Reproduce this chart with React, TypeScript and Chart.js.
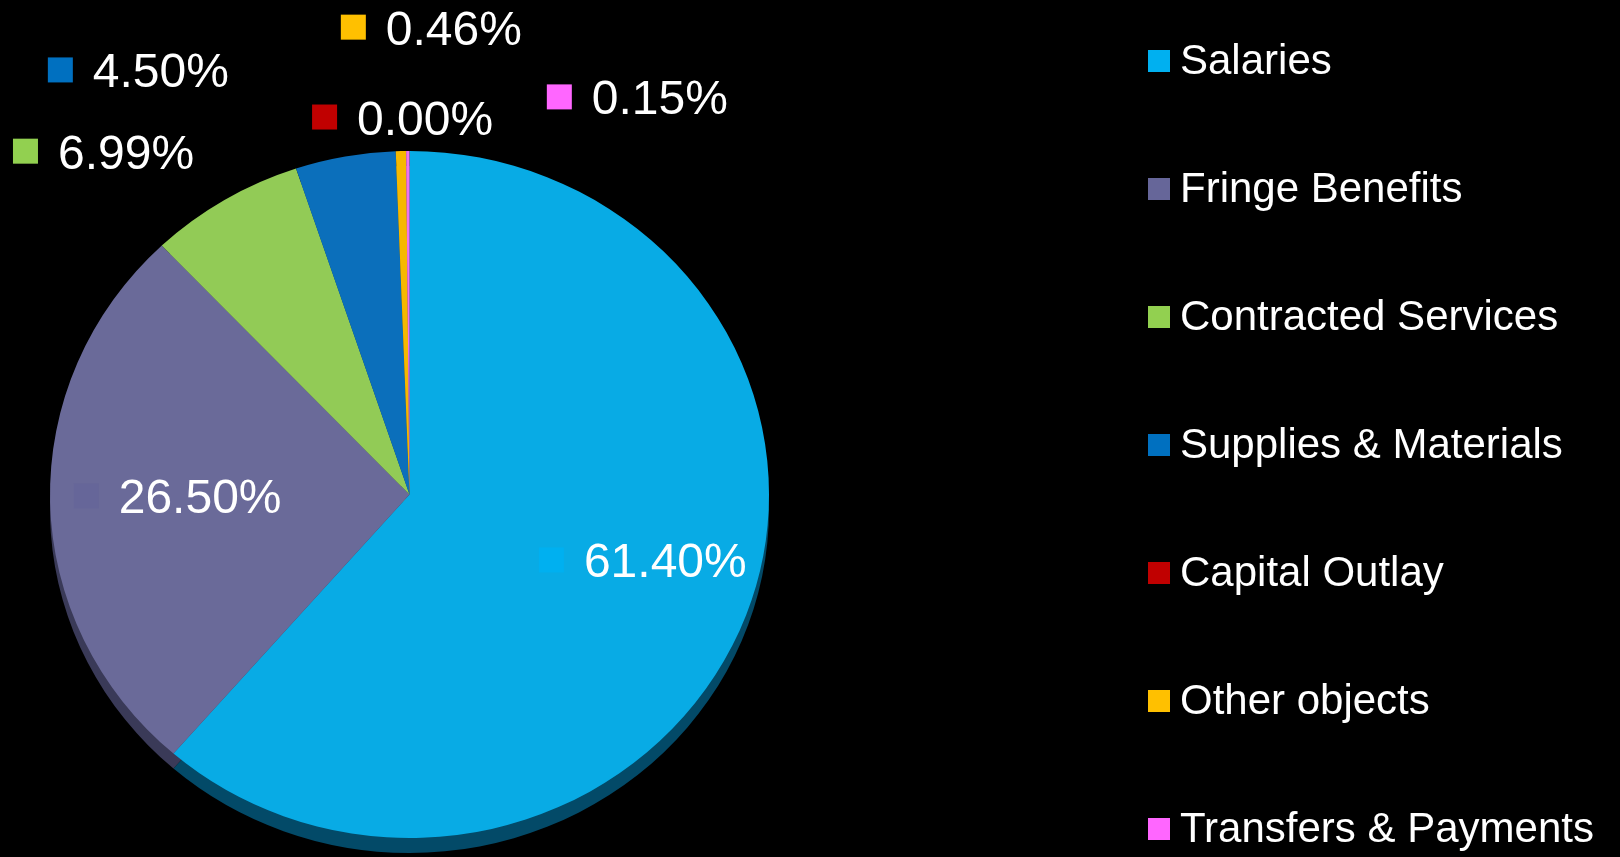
import React, { useEffect, useRef } from 'react';
import { Chart, registerables } from 'chart.js';

Chart.register(...registerables);

// ---- data ----
const categories = [
  'Salaries',
  'Fringe Benefits',
  'Contracted Services',
  'Supplies & Materials',
  'Capital Outlay',
  'Other objects',
  'Transfers & Payments',
];
const shares = [61.4, 26.5, 6.99, 4.5, 0.0, 0.46, 0.15];
const percentLabels = ['61.40%', '26.50%', '6.99%', '4.50%', '0.00%', '0.46%', '0.15%'];

// ---- styles ----
const sliceColors = ['#08ABE5', '#6A6A99', '#92CB56', '#0B6FBB', '#C00000', '#F6B800', '#EE72EE'];
const depthColors = ['#034A68', '#3A3A58', '#4F6E2F', '#063D66', '#6A0000', '#886600', '#883388'];
const keyColors = ['#00B0F0', '#666699', '#92D050', '#0070C0', '#C00000', '#FFC000', '#FF66FF'];

// label placement relative to pie centre, in units of the pie radius (box left, box centre)
const labelSpots: [number, number][] = [
  [0.36, 0.182],
  [-0.934, 0.004],
  [-1.103, -0.955],
  [-1.006, -1.181],
  [-0.271, -1.05],
  [-0.191, -1.3],
  [0.382, -1.106],
];

const FONT = '"Liberation Sans", Arial, Helvetica, sans-serif';
const TILT = 0.9555;
const DEPTH = 15;

const pieTilt = {
  id: 'pieTilt',
  beforeDatasetsDraw(chart: any) {
    const ctx = chart.ctx;
    const arcs = chart.getDatasetMeta(0).data;
    ctx.save();
    if (!arcs.length) return;
    const { x, y } = arcs[0];
    ctx.translate(x, y);
    ctx.scale(1, TILT);
    ctx.translate(-x, -y);
    arcs.forEach((arc: any, i: number) => {
      const p = arc.getProps(['x', 'y', 'startAngle', 'endAngle', 'outerRadius']);
      if (p.endAngle - p.startAngle <= 0) return;
      const sy = p.y + DEPTH / TILT;
      ctx.beginPath();
      ctx.moveTo(p.x, sy);
      ctx.arc(p.x, sy, p.outerRadius, p.startAngle, p.endAngle);
      ctx.closePath();
      ctx.fillStyle = depthColors[i];
      ctx.fill();
    });
  },
  afterDatasetsDraw(chart: any) {
    chart.ctx.restore();
  },
};

const valueLabels = {
  id: 'valueLabels',
  afterDraw(chart: any) {
    const ctx = chart.ctx;
    const arcs = chart.getDatasetMeta(0).data;
    if (!arcs.length) return;
    const { x, y, outerRadius } = arcs[0].getProps(['x', 'y', 'outerRadius']);
    ctx.save();
    ctx.font = `48px ${FONT}`;
    ctx.textBaseline = 'alphabetic';
    ctx.textAlign = 'left';
    percentLabels.forEach((txt, i) => {
      const bx = x + labelSpots[i][0] * outerRadius;
      const cy = y + labelSpots[i][1] * outerRadius;
      ctx.fillStyle = keyColors[i];
      ctx.fillRect(bx, cy - 12.5, 25, 25);
      ctx.fillStyle = '#FFFFFF';
      ctx.fillText(txt, bx + 45, cy + 17.5);
    });
    ctx.restore();
  },
};

const sideLegend = {
  id: 'sideLegend',
  afterDraw(chart: any) {
    const ctx = chart.ctx;
    ctx.save();
    ctx.font = `42px ${FONT}`;
    ctx.textBaseline = 'alphabetic';
    ctx.textAlign = 'left';
    const labels: string[] = chart.data.labels;
    labels.forEach((name, i) => {
      const cy = 61 + i * 128;
      ctx.fillStyle = keyColors[i];
      ctx.fillRect(1148, cy - 11, 22, 22);
      ctx.fillStyle = '#FFFFFF';
      ctx.fillText(name, 1180, cy + 12.5);
    });
    ctx.restore();
  },
};

export default function App() {
  const ref = useRef<HTMLCanvasElement>(null);
  useEffect(() => {
    if (!ref.current) return;
    const chart = new Chart(ref.current, {
      type: 'pie',
      data: {
        labels: categories,
        datasets: [
          {
            data: shares,
            backgroundColor: sliceColors,
            borderWidth: 0,
            radius: 359.5,
            clip: false,
          } as any,
        ],
      },
      options: {
        responsive: false,
        animation: false,
        devicePixelRatio: 1,
        layout: { padding: { left: 0, right: 801, top: 132, bottom: 0 } },
        plugins: {
          legend: { display: false },
          tooltip: { enabled: false },
          title: { display: false },
        },
      },
      plugins: [pieTilt, valueLabels, sideLegend],
    });
    return () => chart.destroy();
  }, []);
  return (
    <div
      style={{
        position: 'fixed',
        left: 0,
        top: 0,
        width: 1620,
        height: 857,
        background: '#000000',
        overflow: 'hidden',
      }}
    >
      <canvas ref={ref} width={1620} height={857} style={{ display: 'block' }} />
    </div>
  );
}
